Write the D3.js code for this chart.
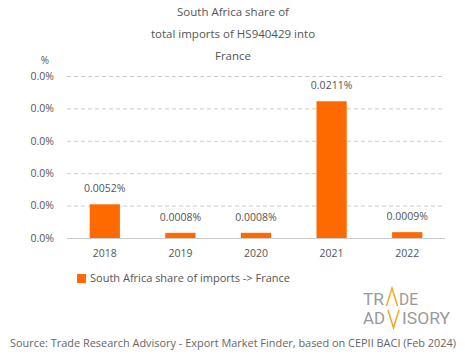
<!DOCTYPE html>
<html><head><meta charset="utf-8">
<script src="https://cdn.jsdelivr.net/npm/d3@7"></script>
<style>body{margin:0;background:#fff;} svg{display:block;font-family:"Open Sans",Lato,sans-serif;}</style>
</head><body><svg id="c" width="465" height="359"></svg>
<script>
const years = ["2018","2019","2020","2021","2022"];
const shares = [0.0052, 0.0008, 0.0008, 0.0211, 0.0009];
const shareLabels = ["0.0052%","0.0008%","0.0008%","0.0211%","0.0009%"];
const yTicks = [0, 0.005, 0.01, 0.015, 0.02, 0.025];
const titleLines = ["South Africa share of","total imports of HS940429 into","France"];
const seriesName = "South Africa share of imports -> France";
const sourceText = "Source: Trade Research Advisory - Export Market Finder, based on CEPII BACI (Feb 2024)";

const svg = d3.select("#c");
const txt = "#555";
const orange = "#FF6A00";
const x = d3.scaleBand().domain(years).range([67,445]).paddingInner(0.6).paddingOuter(0.3);
const y = d3.scaleLinear().domain([0,0.025]).range([238,76]);

svg.selectAll("text.title").data(titleLines).join("text")
  .attr("x",233).attr("y",(d,i)=>16+i*22).attr("text-anchor","middle")
  .attr("font-size",11.5).attr("fill",txt).text(d=>d);

svg.append("text").attr("x",45).attr("y",64).attr("text-anchor","middle").attr("font-size",10).attr("fill",txt).text("%");

const yAxis = svg.append("g").attr("transform","translate(67,0)")
  .call(d3.axisLeft(y).tickValues(yTicks).tickSize(-378).tickFormat(d=>d3.format(".1f")(d)+"%"));
yAxis.select(".domain").remove();
yAxis.selectAll(".tick line").attr("stroke","#ccc").attr("stroke-dasharray",d=>d===0?null:"4,3");
yAxis.selectAll(".tick text").attr("x",-13).attr("fill",txt).attr("font-size",10.5).attr("font-family","'Open Sans',sans-serif");

const xAxis = svg.append("g").attr("transform","translate(0,238)")
  .call(d3.axisBottom(x).tickSize(0).tickPadding(12));
xAxis.select(".domain").remove();
xAxis.selectAll(".tick text").attr("fill",txt).attr("font-size",10.5).attr("font-family","'Open Sans',sans-serif");

svg.selectAll("rect.bar").data(years).join("rect").attr("class","bar")
  .attr("x",d=>x(d)).attr("width",x.bandwidth())
  .attr("y",(d,i)=>y(shares[i])).attr("height",(d,i)=>238-y(shares[i]))
  .attr("fill",orange);

svg.selectAll("text.lab").data(years).join("text").attr("class","lab")
  .attr("x",d=>x(d)+x.bandwidth()/2).attr("y",(d,i)=>y(shares[i])-12)
  .attr("text-anchor","middle").attr("font-size",10.5).attr("fill",txt)
  .text((d,i)=>shareLabels[i]);

svg.append("rect").attr("x",77).attr("y",274).attr("width",9).attr("height",9).attr("fill",orange);
svg.append("text").attr("x",90).attr("y",282).attr("font-size",10.5).attr("fill",txt)
  .attr("textLength",200).attr("lengthAdjust","spacingAndGlyphs").text(seriesName);

// logo
const logo = svg.append("g").attr("fill","#9a9a9a").attr("font-family","'Liberation Sans Narrow','Roboto',sans-serif").attr("font-size",16.5);
const seg = (t,x0,w,yb)=>logo.append("text").attr("x",x0).attr("y",yb).attr("textLength",w).attr("lengthAdjust","spacingAndGlyphs").text(t);
seg("TR",363,21,305);
seg("DE",399,19,305);
seg("AD",363,22,324);
seg("ISORY",402,48,324);
svg.append("path").attr("d","M386.5,306 L392,288 L397.5,306 M388,310 L393.5,328 L399,310")
  .attr("fill","none").attr("stroke","#F5A623").attr("stroke-width",1.5);

svg.append("text").attr("x",233).attr("y",347).attr("text-anchor","middle").attr("font-size",11).attr("fill","#666")
  .attr("textLength",446).attr("lengthAdjust","spacingAndGlyphs").text(sourceText);
</script></body></html>
